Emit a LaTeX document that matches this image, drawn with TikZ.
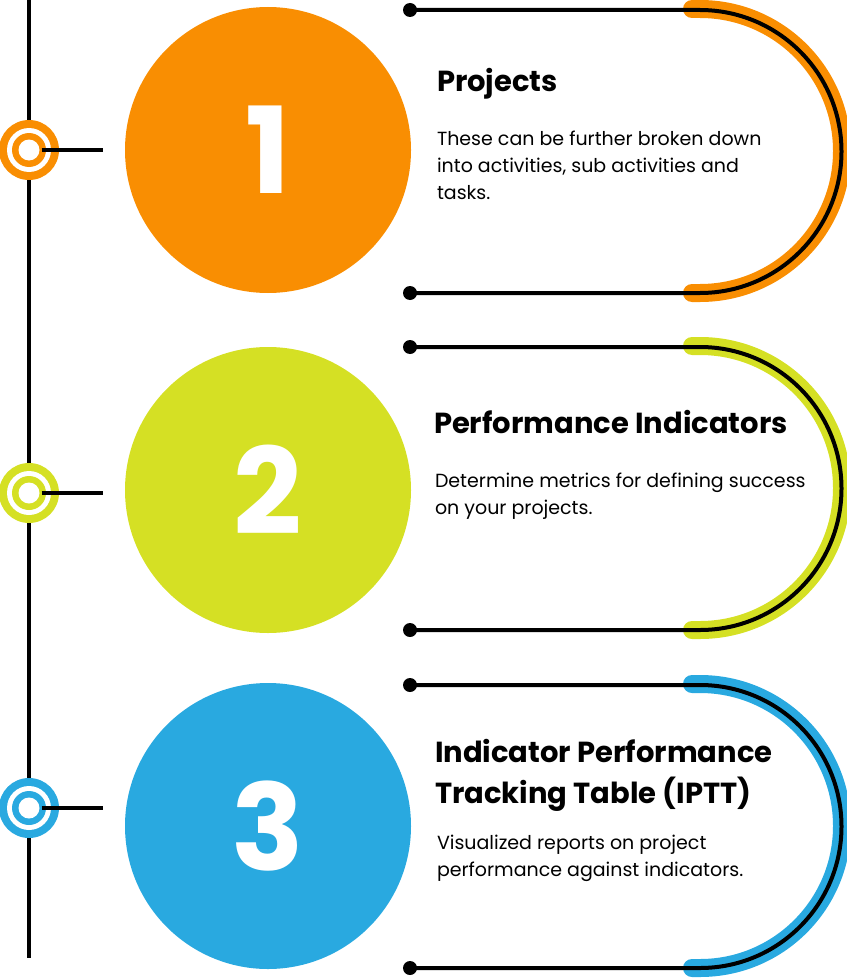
\documentclass[tikz,border=0pt]{standalone}
\usepackage{fontspec}
\setmainfont{Poppins}
\definecolor{orng}{HTML}{F98E02}
\definecolor{lime}{HTML}{D5E024}
\definecolor{sky}{HTML}{29A9E0}
\begin{document}
\begin{tikzpicture}[x=1pt,y=-1pt,line width=4pt]
  \tikzstyle{big}=[circle,minimum size=286pt,inner sep=0pt,text=white,font=\fontsize{120}{120}\selectfont\bfseries]
  \tikzstyle{head}=[anchor=base west,inner sep=0pt,align=left,font=\fontsize{29}{41}\selectfont\bfseries]
  \tikzstyle{body}=[anchor=base west,inner sep=0pt,align=left,font=\fontsize{19}{27}\selectfont]
  \useasboundingbox (0,0) rectangle (846,979);

  % timeline
  \coordinate (top) at (29,0);
  \coordinate (bot) at (29,958);
  \draw (top) -- (bot);

  \foreach \col/\y/\cy/\num [count=\i] in {orng/150/150/1, lime/493/490/2, sky/808/826/3}{
    % marker on the timeline
    \node[circle,fill=\col,minimum size=60pt,inner sep=0pt] (ring\i) at (29,\y) {};
    \node[circle,fill=white,minimum size=44pt,inner sep=0pt] at (ring\i) {};
    \node[circle,fill=\col,minimum size=34pt,inner sep=0pt] at (ring\i) {};
    \node[circle,fill=white,minimum size=21pt,inner sep=0pt] (hub\i) at (ring\i) {};
    \coordinate (tick\i) at (103,\y);
    \draw (hub\i.east) -- (tick\i);
    % number disc
    \node[big,fill=\col] (disc\i) at (268,\cy) {\num};
  }

  % brackets
  \foreach \col/\t [count=\i] in {orng/10, lime/347, sky/685}{
    \coordinate (a\i) at (410,\t);
    \coordinate (b\i) at (700,\t);
    \draw[\col,line width=18pt,line cap=round] (692,\t-1) -- (700,\t-1) arc[start angle=-90,end angle=90,radius=142] -- (692,\t+283);
    \draw (a\i) -- (b\i) arc[start angle=-90,end angle=90,radius=141.5] -- (410,\t+283) coordinate (c\i);
    \fill (a\i) circle (7pt) (c\i) circle (7pt);
  }

  % texts
  \node[head] (t1) at (435,92) {Projects};
  \node[body] (d1) at (435,199) {These can be further broken down\\into activities, sub activities and\\tasks.};
  \node[head] (t2) at (432,433) {Performance Indicators};
  \node[body] (d2) at (433,514) {Determine metrics for defining success\\on your projects.};
  \node[head] (t3) at (433,803) {Indicator Performance\\Tracking Table (IPTT)};
  \node[body] (d3) at (435,876) {Visualized reports on project\\performance against indicators.};
\end{tikzpicture}
\end{document}
